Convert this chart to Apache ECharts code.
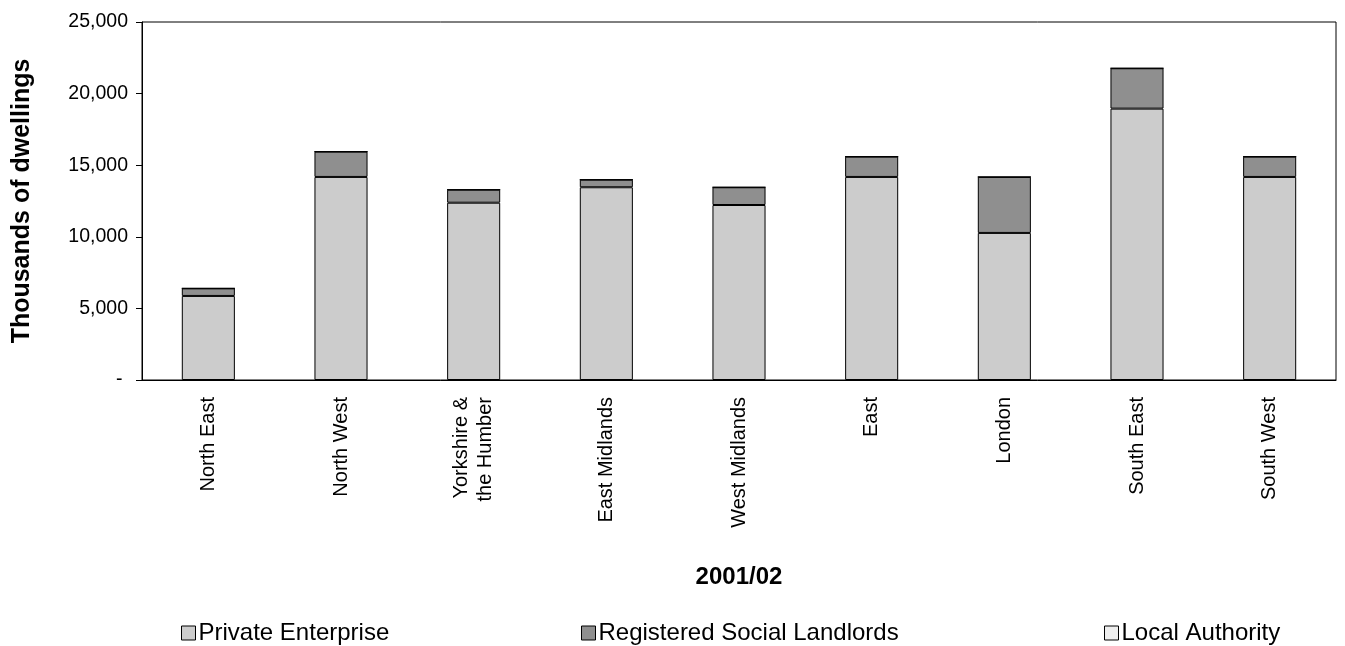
<!DOCTYPE html>
<html>
<head>
<meta charset="utf-8">
<script src="https://cdn.jsdelivr.net/npm/echarts@6/dist/echarts.min.js"></script>
<style>
  html, body { margin: 0; padding: 0; background: #ffffff; }
  #chart { width: 1345px; height: 646px; }
</style>
</head>
<body>
<div id="chart"></div>
<script>
// Housebuilding completions by English region, 2001/02
const regions = [
  'North East', 'North West', 'Yorkshire &\nthe Humber', 'East Midlands',
  'West Midlands', 'East', 'London', 'South East', 'South West'
];
const privateEnterprise = [5870, 14180, 12380, 13460, 12220, 14180, 10270, 18950, 14180];
const registeredSocialLandlords = [530, 1770, 910, 530, 1240, 1420, 3910, 2820, 1420];
const localAuthority = [0, 0, 0, 0, 0, 0, 0, 0, 0];

const seriesNames = ['Private Enterprise', 'Registered Social Landlords', 'Local Authority'];
const seriesColors = ['#cccccc', '#8f8f8f', '#eeeeee'];
const seriesValues = [privateEnterprise, registeredSocialLandlords, localAuthority];

const yTicks = { min: 0, max: 25000, step: 5000 };

const FONT = '"Liberation Sans", Arial, sans-serif';

function legendFor(name, left) {
  return {
    data: [name],
    left: left,
    top: 616,
    icon: 'rect',
    itemWidth: 14,
    itemHeight: 14,
    itemGap: 0,
    textStyle: { fontFamily: FONT, fontSize: 24, color: '#000', padding: [0, 0, 0, -2] },
    itemStyle: { borderColor: '#000', borderWidth: 1 }
  };
}

const chart = echarts.init(document.getElementById('chart'), null, { renderer: 'canvas' });

chart.setOption({
  backgroundColor: '#ffffff',
  animation: false,
  grid: {
    left: 142, right: 9, top: 22, bottom: 266,
    show: true, borderColor: '#000', borderWidth: 1, backgroundColor: 'transparent'
  },
  legend: [
    legendFor(seriesNames[0], 176),
    legendFor(seriesNames[1], 576),
    legendFor(seriesNames[2], 1099)
  ],
  xAxis: {
    type: 'category',
    data: regions,
    name: '2001/02',
    nameLocation: 'middle',
    nameGap: 185,
    nameTextStyle: { fontFamily: FONT, fontSize: 24, fontWeight: 'bold', color: '#000' },
    axisLine: { lineStyle: { color: '#000', width: 1 } },
    axisTick: { show: false },
    axisLabel: {
      rotate: 90,
      margin: 17,
      interval: 0,
      fontFamily: FONT,
      fontSize: 20,
      lineHeight: 24,
      color: '#000'
    }
  },
  yAxis: {
    type: 'value',
    min: yTicks.min,
    max: yTicks.max,
    interval: yTicks.step,
    name: 'Thousands of dwellings',
    nameLocation: 'middle',
    nameRotate: 90,
    nameGap: 107,
    nameTextStyle: { fontFamily: FONT, fontSize: 25, fontWeight: 'bold', color: '#000' },
    axisLine: { show: true, lineStyle: { color: '#000', width: 1 } },
    axisTick: { show: true, inside: false, length: 6, lineStyle: { color: '#000' } },
    splitLine: { show: false },
    axisLabel: {
      margin: 14,
      fontFamily: FONT,
      fontSize: 19.5,
      color: '#000',
      formatter: function (v) {
        return v === 0 ? '- ' : v.toLocaleString('en-GB');
      }
    }
  },
  series: seriesNames.map(function (name, i) {
    return {
      name: name,
      type: 'bar',
      stack: 'total',
      barWidth: '40%',
      data: seriesValues[i],
      itemStyle: { color: seriesColors[i], borderColor: '#000', borderWidth: 1 },
      emphasis: { disabled: true }
    };
  })
});
</script>
</body>
</html>
